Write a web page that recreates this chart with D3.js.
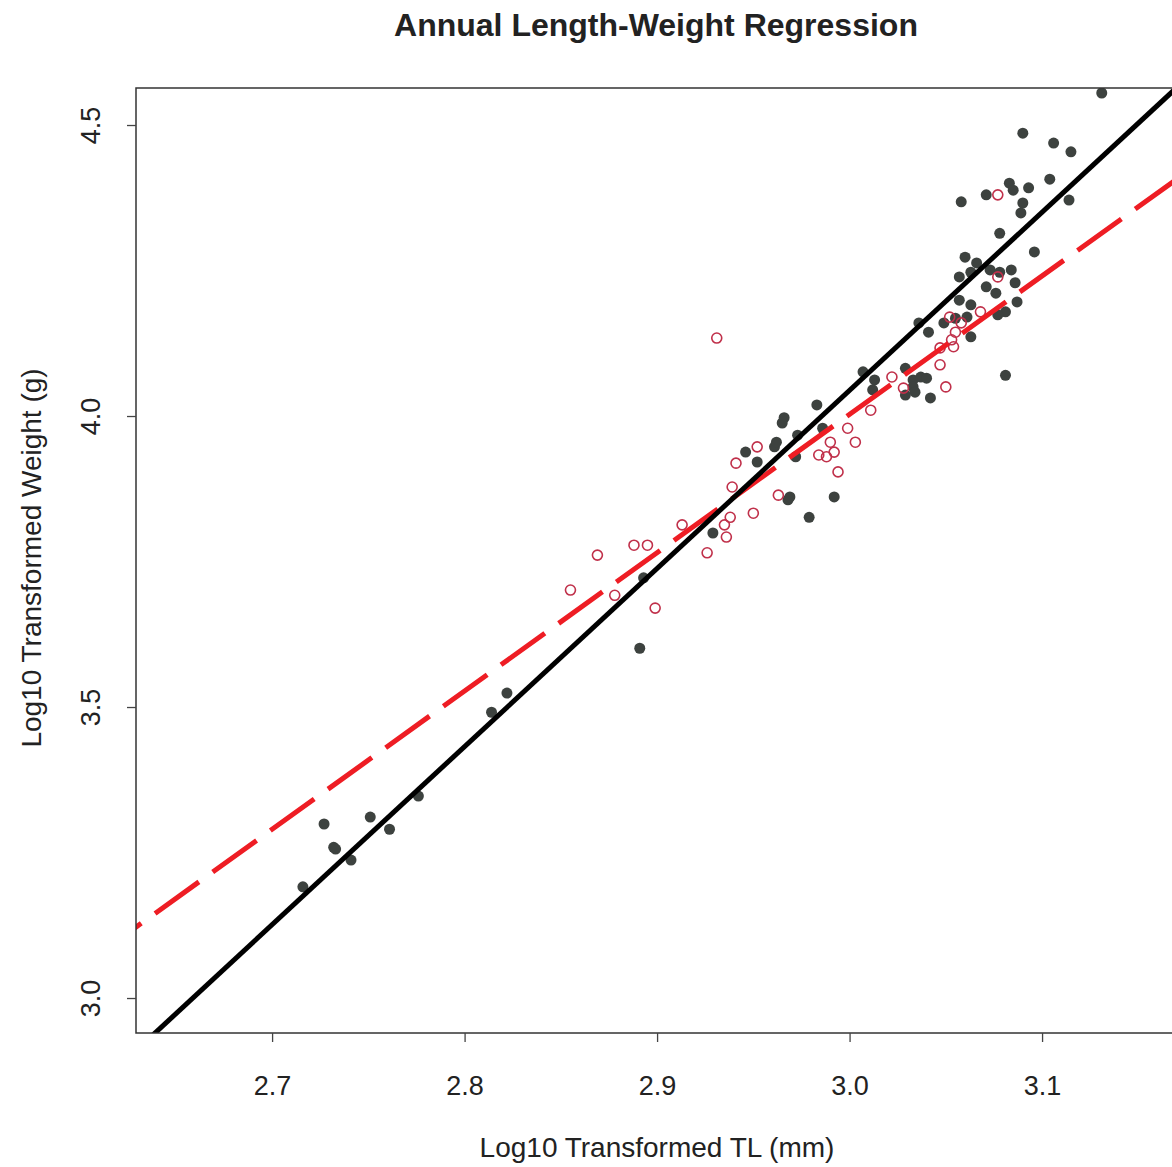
<!DOCTYPE html>
<html>
<head>
<meta charset="utf-8">
<script src="https://cdn.jsdelivr.net/npm/d3@7"></script>
<style>
  body { margin: 0; background: #fff; }
  text { font-family: "Liberation Sans", Arial, sans-serif; fill: #222; }
</style>
</head>
<body>
<svg id="chart" width="1172" height="1167"></svg>
<script>
// log10 TL (mm), log10 weight (g) -- dark filled points
var blackX = [2.716, 2.727, 2.732, 2.733, 2.741, 2.751, 2.761, 2.776, 2.814, 2.822, 2.891, 2.893, 2.929,
  2.946, 2.952, 2.961, 2.962, 2.965, 2.966, 2.968, 2.969, 2.972, 2.973, 2.979, 2.983, 2.986, 2.992,
  3.007, 3.013, 3.012, 3.029, 3.029, 3.033, 3.033, 3.037, 3.040, 3.042, 3.034, 3.036, 3.041, 3.049,
  3.055, 3.057, 3.061, 3.063, 3.063, 3.057, 3.060, 3.063, 3.066, 3.073, 3.078, 3.084, 3.071, 3.076,
  3.086, 3.087, 3.081, 3.077, 3.081, 3.096, 3.058, 3.071, 3.078, 3.083, 3.085, 3.093, 3.090, 3.089,
  3.090, 3.106, 3.115, 3.104, 3.114, 3.131];
var blackY = [3.191, 3.299, 3.259, 3.256, 3.237, 3.311, 3.290, 3.347, 3.491, 3.524, 3.601, 3.722, 3.799,
  3.938, 3.921, 3.947, 3.955, 3.988, 3.997, 3.856, 3.861, 3.930, 3.967, 3.826, 4.019, 3.979, 3.861,
  4.076, 4.062, 4.045, 4.082, 4.036, 4.062, 4.050, 4.067, 4.065, 4.031, 4.041, 4.160, 4.144, 4.160,
  4.168, 4.199, 4.170, 4.191, 4.136, 4.239, 4.273, 4.247, 4.263, 4.251, 4.247, 4.251, 4.222, 4.211,
  4.229, 4.196, 4.179, 4.174, 4.070, 4.282, 4.368, 4.380, 4.314, 4.400, 4.388, 4.392, 4.366, 4.349,
  4.486, 4.469, 4.454, 4.407, 4.371, 4.555];

// open red points
var redX = [2.855, 2.869, 2.878, 2.888, 2.895, 2.899, 2.913, 2.926, 2.931, 2.935, 2.936, 2.938, 2.939,
  2.941, 2.950, 2.952, 2.963, 2.984, 2.988, 2.992, 2.990, 2.994, 2.999, 3.003, 3.011, 3.022, 3.028,
  3.047, 3.050, 3.047, 3.053, 3.054, 3.055, 3.052, 3.068, 3.077, 3.058, 3.077];
var redY = [3.701, 3.761, 3.692, 3.778, 3.778, 3.670, 3.813, 3.765, 4.134, 3.813, 3.792, 3.826, 3.878,
  3.919, 3.833, 3.947, 3.864, 3.933, 3.930, 3.938, 3.955, 3.904, 3.979, 3.955, 4.010, 4.067, 4.048,
  4.088, 4.050, 4.117, 4.131, 4.119, 4.144, 4.170, 4.179, 4.239, 4.160, 4.380];

// regression lines: intercept, slope
var fitBlack = [-5.1371, 3.0604];
var fitRed = [-3.128, 2.377];

var xTicks = [2.7, 2.8, 2.9, 3.0, 3.1];
var yTicks = [3.0, 3.5, 4.0, 4.5];

var svg = d3.select("#chart");
var plotL = 136, plotT = 88, plotR = 1172, plotB = 1033;

var x = d3.scaleLinear().domain([2.6293, 3.1675]).range([plotL, plotR]);
var y = d3.scaleLinear().domain([2.9399, 4.5636]).range([plotB, plotT]);

svg.append("defs").append("clipPath").attr("id", "clip")
  .append("rect").attr("x", plotL).attr("y", plotT)
  .attr("width", plotR - plotL + 10).attr("height", plotB - plotT);

var plot = svg.append("g").attr("clip-path", "url(#clip)");

var blackPts = blackX.map(function (d, i) { return [d, blackY[i]]; });
var redPts = redX.map(function (d, i) { return [d, redY[i]]; });

plot.selectAll(".bp").data(blackPts).enter().append("circle")
  .attr("class", "bp")
  .attr("cx", d => x(d[0])).attr("cy", d => y(d[1]))
  .attr("r", 5.5)
  .attr("fill", "#3d423f");

plot.selectAll(".rp").data(redPts).enter().append("circle")
  .attr("class", "rp")
  .attr("cx", d => x(d[0])).attr("cy", d => y(d[1]))
  .attr("r", 5)
  .attr("fill", "none")
  .attr("stroke", "#c0304a")
  .attr("stroke-width", 1.6);

var xr = x.domain();
var line = d3.line().x(d => x(d[0])).y(d => y(d[1]));
function fitPts(f) {
  return [[xr[0] - 0.05, f[0] + f[1] * (xr[0] - 0.05)], [xr[1] + 0.05, f[0] + f[1] * (xr[1] + 0.05)]];
}

plot.append("path").datum(fitPts(fitRed))
  .attr("d", line)
  .attr("fill", "none")
  .attr("stroke", "#ee1d24")
  .attr("stroke-width", 5)
  .attr("stroke-dasharray", "54,17");

plot.append("path").datum(fitPts(fitBlack))
  .attr("d", line)
  .attr("fill", "none")
  .attr("stroke", "#000")
  .attr("stroke-width", 5);

// box (right side runs off the picture)
svg.append("rect")
  .attr("x", plotL).attr("y", plotT)
  .attr("width", plotR - plotL + 10).attr("height", plotB - plotT)
  .attr("fill", "none").attr("stroke", "#333").attr("stroke-width", 1.5);

var xAxis = svg.append("g")
  .attr("transform", "translate(0," + plotB + ")")
  .call(d3.axisBottom(x).tickValues(xTicks).tickFormat(d3.format(".1f")).tickSize(9).tickPadding(14));
xAxis.select(".domain").remove();
xAxis.selectAll("line").attr("stroke", "#444").attr("stroke-width", 1.3);
xAxis.selectAll("text").attr("dy", null).attr("y", 62)
  .style("font-size", "27px").attr("fill", "#222");

var yAxis = svg.append("g")
  .attr("transform", "translate(" + plotL + ",0)")
  .call(d3.axisLeft(y).tickValues(yTicks).tickFormat(d3.format(".1f")).tickSize(9));
yAxis.select(".domain").remove();
yAxis.selectAll("line").attr("stroke", "#444").attr("stroke-width", 1.3);
yAxis.selectAll("text")
  .attr("x", null).attr("dy", null)
  .attr("transform", "translate(-36,0) rotate(-90)")
  .attr("text-anchor", "middle")
  .style("font-size", "27px").attr("fill", "#222");

svg.append("text")
  .attr("x", 656).attr("y", 36)
  .attr("text-anchor", "middle")
  .style("font-size", "32px").style("font-weight", "bold")
  .text("Annual Length-Weight Regression");

svg.append("text")
  .attr("x", 657).attr("y", 1157)
  .attr("text-anchor", "middle")
  .style("font-size", "28px")
  .text("Log10 Transformed TL (mm)");

svg.append("text")
  .attr("transform", "translate(41,558) rotate(-90)")
  .attr("text-anchor", "middle")
  .style("font-size", "28px")
  .text("Log10 Transformed Weight (g)");
</script>
</body>
</html>
